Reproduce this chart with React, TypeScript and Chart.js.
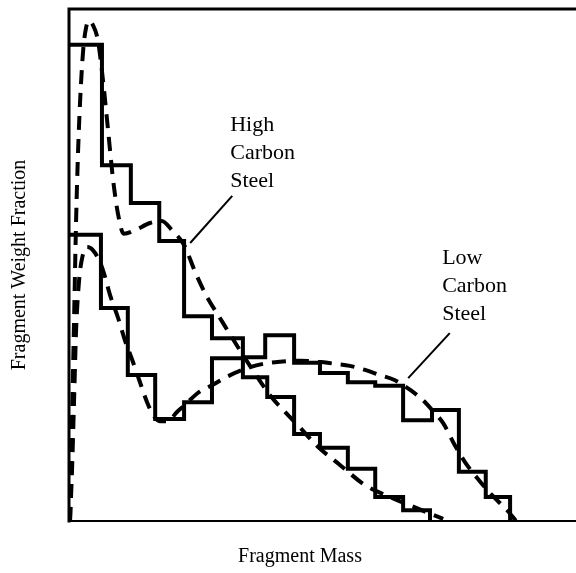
import React, { useEffect, useRef } from "react";
import { Chart, registerables } from "chart.js";

Chart.register(...registerables);

// Histogram bin edges (fragment mass) and the weight fraction of each bin
const highCarbonEdges = [0, 6.5, 12.2, 17.8, 22.7, 28.2, 34.3, 39.1, 44.4, 49.5, 55.0, 60.4, 65.9, 71.2];
const highCarbonFractions = [93.0, 69.5, 62.1, 54.7, 40.0, 35.7, 28.1, 24.2, 17.0, 14.3, 10.2, 4.7, 2.1];

const lowCarbonEdges = [0, 6.3, 11.6, 17.0, 22.7, 28.2, 34.3, 38.7, 44.4, 49.5, 55.0, 60.4, 65.9, 71.6, 76.9, 82.2, 87.0];
const lowCarbonFractions = [55.9, 41.6, 28.5, 19.9, 23.2, 31.8, 32.0, 36.3, 30.9, 28.9, 27.1, 26.4, 19.7, 21.7, 9.6, 4.7];

// Fitted distribution curves (dashed)
const highCarbonFitMass = [0.2, 0.6, 1.0, 1.4, 1.8, 2.2, 2.8, 3.4, 3.9, 4.7, 5.7, 6.7, 7.7, 8.7, 9.7, 10.8, 13.0, 16.0, 18.3, 20.3, 22.7, 24.9, 27.2, 29.8, 32.1, 34.7, 37.3, 39.6, 42.6, 45.6, 49.1, 53.5, 58.4, 63.3, 68.6, 73.8];
const highCarbonFitFraction = [0, 19.7, 39.3, 58.8, 72.5, 82.2, 92.0, 96.5, 97.7, 96.9, 93.9, 86.1, 76.4, 66.6, 59.8, 56.1, 56.8, 58.2, 58.6, 56.8, 53.9, 48.6, 43.8, 39.6, 35.9, 31.8, 27.9, 24.6, 21.3, 18.2, 14.5, 10.9, 7.0, 4.7, 2.5, 0.4];

const lowCarbonFitMass = [0.2, 0.6, 1.0, 1.4, 2.0, 2.6, 3.6, 4.7, 6.1, 7.1, 8.1, 9.7, 11.0, 12.6, 14.0, 15.4, 16.6, 17.9, 19.5, 21.3, 22.9, 25.4, 28.4, 31.4, 35.3, 38.3, 41.6, 45.6, 49.1, 52.5, 55.4, 58.4, 61.3, 64.3, 67.3, 69.8, 71.6, 73.8, 76.1, 78.1, 80.5, 83.0, 86.4, 88.2];
const lowCarbonFitFraction = [0, 10.0, 23.6, 37.3, 47.1, 51.4, 53.5, 52.9, 50.6, 47.7, 44.1, 39.6, 35.4, 31.1, 27.1, 23.2, 20.7, 19.5, 19.5, 21.3, 22.7, 25.0, 26.6, 28.3, 29.9, 30.7, 31.1, 31.3, 31.1, 30.7, 30.3, 29.5, 28.5, 27.5, 25.6, 23.6, 21.7, 19.1, 14.8, 11.5, 8.4, 5.5, 2.1, 0];

// Callout labels and their leader lines
const highCarbonLabel = ["High", "Carbon", "Steel"];
const lowCarbonLabel = ["Low", "Carbon", "Steel"];
const highCarbonLeader = [{ x: 32.2, y: 63.5 }, { x: 23.9, y: 54.3 }];
const lowCarbonLeader = [{ x: 75.1, y: 36.7 }, { x: 66.9, y: 27.9 }];

const xTitle = "Fragment Mass";
const yTitle = "Fragment Weight Fraction";

const SERIF = '"Liberation Serif", "DejaVu Serif", serif';

// Each bin value is held from its left edge to the next edge; the last edge drops to zero
function stepPoints(edges: number[], values: number[]) {
  return edges.map((x, i) => ({ x, y: i < values.length ? values[i] : 0 }));
}

function curvePoints(xs: number[], ys: number[]) {
  return xs.map((x, i) => ({ x, y: ys[i] }));
}

const framePlugin = {
  id: "frame",
  afterDatasetsDraw(chart: any) {
    const { ctx, chartArea } = chart;
    const xs = chart.scales.x;
    const ys = chart.scales.y;
    ctx.save();
    ctx.strokeStyle = "#000";
    ctx.lineCap = "square";
    // left, top and bottom frame lines
    ctx.lineWidth = 3;
    ctx.beginPath();
    ctx.moveTo(chartArea.right, chartArea.top);
    ctx.lineTo(chartArea.left, chartArea.top);
    ctx.lineTo(chartArea.left, chartArea.bottom);
    ctx.stroke();
    ctx.lineWidth = 2;
    ctx.beginPath();
    ctx.moveTo(chartArea.left, chartArea.bottom);
    ctx.lineTo(chartArea.right, chartArea.bottom);
    ctx.stroke();

    ctx.fillStyle = "#000";
    ctx.textBaseline = "middle";

    // callout labels
    ctx.font = `22px ${SERIF}`;
    ctx.textAlign = "left";
    const drawLabel = (lines: string[], mx: number, my: number) => {
      const px = xs.getPixelForValue(mx);
      const py = ys.getPixelForValue(my);
      lines.forEach((t, i) => ctx.fillText(t, px, py + i * 28));
    };
    drawLabel(highCarbonLabel, 31.8, 77.3);
    drawLabel(lowCarbonLabel, 73.6, 51.4);

    // axis titles
    ctx.font = `20px ${SERIF}`;
    ctx.textAlign = "center";
    ctx.fillText(xTitle, 300, 557);
    ctx.save();
    ctx.translate(20, (chartArea.top + chartArea.bottom) / 2);
    ctx.rotate(-Math.PI / 2);
    ctx.fillText(yTitle, 0, 0);
    ctx.restore();
    ctx.restore();
  },
};

export default function App() {
  const canvasRef = useRef<HTMLCanvasElement | null>(null);

  useEffect(() => {
    const canvas = canvasRef.current;
    if (!canvas) return;
    const solid = { borderColor: "#000", borderWidth: 4, pointRadius: 0, fill: false };
    const dashed = {
      borderColor: "#000",
      borderWidth: 4,
      borderDash: [14, 9],
      pointRadius: 0,
      fill: false,
      cubicInterpolationMode: "monotone" as const,
    };
    const chart = new Chart(canvas, {
      type: "line",
      data: {
        datasets: [
          { label: "High Carbon Steel", data: stepPoints(highCarbonEdges, highCarbonFractions), stepped: "before", ...solid },
          { label: "Low Carbon Steel", data: stepPoints(lowCarbonEdges, lowCarbonFractions), stepped: "before", ...solid },
          { label: "High Carbon Steel fit", data: curvePoints(highCarbonFitMass, highCarbonFitFraction), ...dashed },
          { label: "Low Carbon Steel fit", data: curvePoints(lowCarbonFitMass, lowCarbonFitFraction), ...dashed },
          { label: "leader high", data: highCarbonLeader, borderColor: "#000", borderWidth: 2, pointRadius: 0 },
          { label: "leader low", data: lowCarbonLeader, borderColor: "#000", borderWidth: 2, pointRadius: 0 },
        ],
      },
      options: {
        responsive: false,
        animation: false,
        devicePixelRatio: 1,
        layout: { padding: { left: 69, right: 0, top: 9, bottom: 52 } },
        plugins: { legend: { display: false }, tooltip: { enabled: false } },
        scales: {
          x: { type: "linear", min: 0, max: 100, display: false },
          y: { type: "linear", min: 0, max: 100, display: false },
        },
      },
      plugins: [framePlugin],
    });
    return () => chart.destroy();
  }, []);

  return (
    <div style={{ position: "absolute", left: 0, top: 0, width: 576, height: 573, background: "#fff" }}>
      <canvas ref={canvasRef} width={576} height={573} />
    </div>
  );
}
